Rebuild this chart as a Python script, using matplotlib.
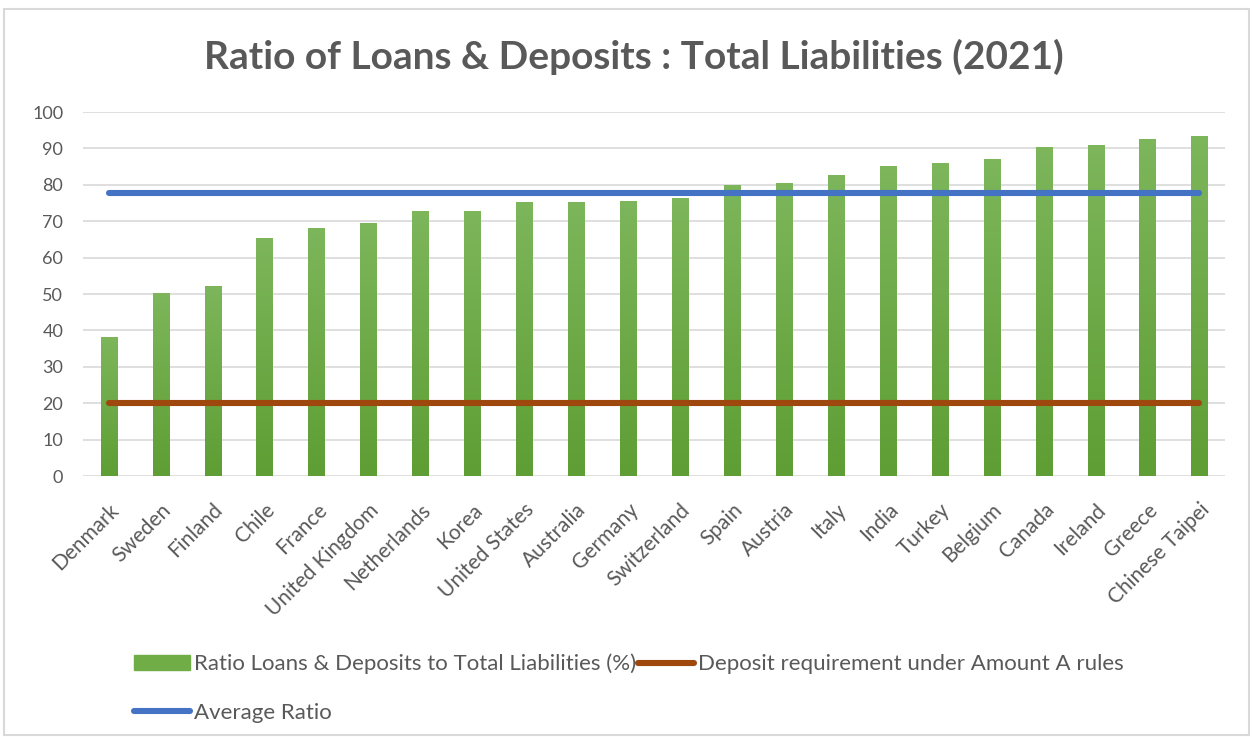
import numpy as np
import matplotlib
matplotlib.use("Agg")
import matplotlib.pyplot as plt
from matplotlib.patches import Rectangle

# data
countries = ["Denmark", "Sweden", "Finland", "Chile", "France", "United Kingdom",
             "Netherlands", "Korea", "United States", "Australia", "Germany",
             "Switzerland", "Spain", "Austria", "Italy", "India", "Turkey",
             "Belgium", "Canada", "Ireland", "Greece", "Chinese Taipei"]
ratio = [38.1, 50.2, 52.3, 65.4, 68.2, 69.6, 72.8, 72.8, 75.3, 75.3, 75.6,
         76.4, 79.9, 80.6, 82.7, 85.2, 85.9, 87.0, 90.5, 90.9, 92.6, 93.3]
deposit_req = 20
avg_ratio = 77.7
yticks = list(range(0, 101, 10))

plt.rcParams['font.family'] = ['Lato', 'DejaVu Sans']
gray = '#595959'

fig = plt.figure(figsize=(12.53, 7.37), dpi=100)
fig.patches.append(Rectangle((0.003, 0.003), 0.994, 0.985, transform=fig.transFigure,
                             fill=False, edgecolor='#D9D9D9', lw=1.5))
ax = fig.add_axes([0.066, 0.354, 0.912, 0.494])

x = np.arange(len(countries))
bars = ax.bar(x, ratio, width=0.31, color='#70AD47', zorder=2)

# vertical gradient on each bar
grad = np.linspace(0, 1, 256).reshape(-1, 1)
cmap = matplotlib.colors.LinearSegmentedColormap.from_list('g', ['#5E9E34', '#7DB65B'])
for b in bars:
    im = ax.imshow(grad, cmap=cmap, origin='lower', aspect='auto', zorder=2.1,
                   extent=[b.get_x(), b.get_x() + b.get_width(), 0, b.get_height()])
    im.set_clip_path(b)

ax.plot([x[0], x[-1]], [deposit_req, deposit_req], color='#9E480E', lw=4.4,
        solid_capstyle='round', zorder=3, label='Deposit requirement under Amount A rules')
ax.plot([x[0], x[-1]], [avg_ratio, avg_ratio], color='#4472C4', lw=4.4,
        solid_capstyle='round', zorder=3, label='Average Ratio')

ax.set_xlim(-0.5, len(countries) - 0.5)
ax.set_ylim(0, 100)
ax.set_yticks(yticks)
ax.grid(axis='y', color='#D9D9D9', lw=1.2, zorder=0)
ax.set_axisbelow(True)
for s in ax.spines.values():
    s.set_visible(False)
ax.tick_params(length=0, colors=gray, labelsize=13)
ax.tick_params(axis='y', pad=14)
ax.tick_params(axis='x', pad=17, labelsize=15)
ax.set_xticks(x)
ax.set_xticklabels(countries, rotation=45, ha='right', rotation_mode='anchor')

fig.text(0.506, 0.923, 'Ratio of Loans & Deposits : Total Liabilities (2021)',
         ha='center', va='center', fontsize=28, fontweight='bold', color=gray)

h, l = ax.get_legend_handles_labels()
bar_h = Rectangle((0, 0), 1, 1, color='#70AD47')
handles = [bar_h, h[1], h[0]]
labels = ['Ratio Loans & Deposits to Total Liabilities (%)', l[1], l[0]]
fig.legend(handles, labels, ncol=2, loc='upper left', bbox_to_anchor=(0.107, 0.113),
           frameon=False, fontsize=16, labelcolor=gray, handlelength=2.5,
           handletextpad=0.2, columnspacing=0.1, labelspacing=1.3,
           borderaxespad=0, borderpad=0)

fig.savefig('out.png', dpi=100)
